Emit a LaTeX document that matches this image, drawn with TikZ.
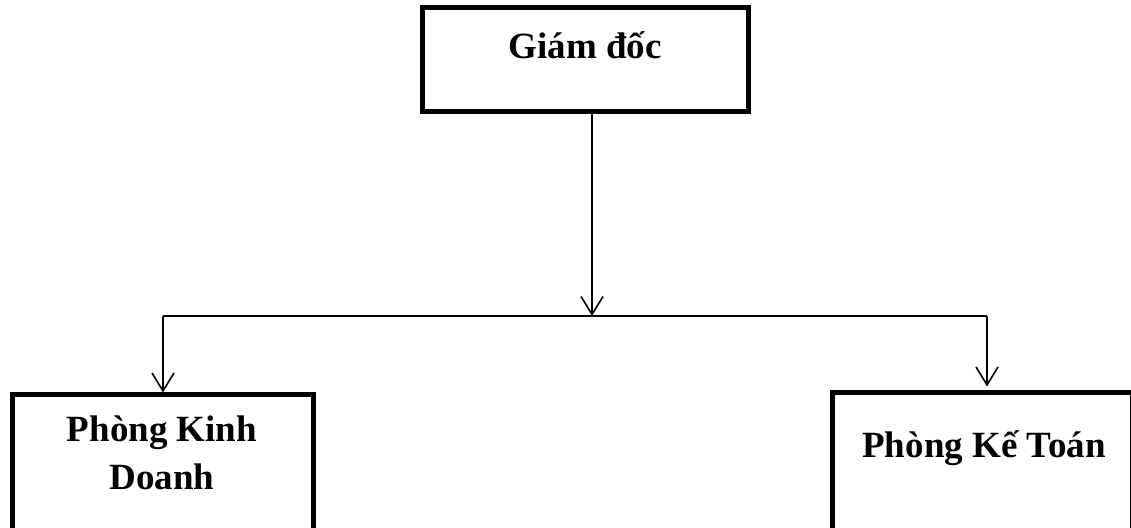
\documentclass[tikz,border=0pt]{standalone}
\usepackage{fontspec}
\setmainfont{Liberation Serif}
\usetikzlibrary{arrows.meta}
\begin{document}
\begin{tikzpicture}[x=0.5pt,y=-0.5pt,
  box/.style={draw, line width=2.5pt, rectangle, inner sep=0pt},
  lbl/.style={inner sep=0pt, anchor=base, font=\fontsize{18.5}{24}\selectfont\bfseries},
  conn/.style={line width=0.8pt, -{Straight Barb[length=9pt,width=11pt,line width=0.8pt]}},
  plain/.style={line width=0.8pt}]
  \useasboundingbox (0,0) rectangle (1131,528);
  \clip (0,0) rectangle (1131,528);

  % boxes
  \node[box, minimum width=163pt, minimum height=52pt] (gd) at (585,60) {};
  \node[box, minimum width=150.5pt, minimum height=75pt] (kd) at (162.5,470) {};
  \node[box, minimum width=150pt, minimum height=76pt] (kt) at (982,469) {};

  % labels
  \node[lbl] (tgd) at (585,59) {Giám đốc};
  \node[lbl] (tkd1) at (162,442) {Phòng Kinh};
  \node[lbl] (tkd2) at (162,490) {Doanh};
  \node[lbl] (tkt) at (984,458) {Phòng Kế Toán};

  % bus points
  \coordinate (bus) at (592,316);
  \coordinate (busL) at (163,316);
  \coordinate (busR) at (987,316);

  % connectors
  \draw[conn] (gd.south -| bus) -- (bus);
  \draw[plain] (busL) -- (busR);
  \draw[conn] (busL) -- (busL |- kd.north);
  \draw[conn] (busR) -- ([yshift=2pt]busR |- kt.north);
\end{tikzpicture}
\end{document}
